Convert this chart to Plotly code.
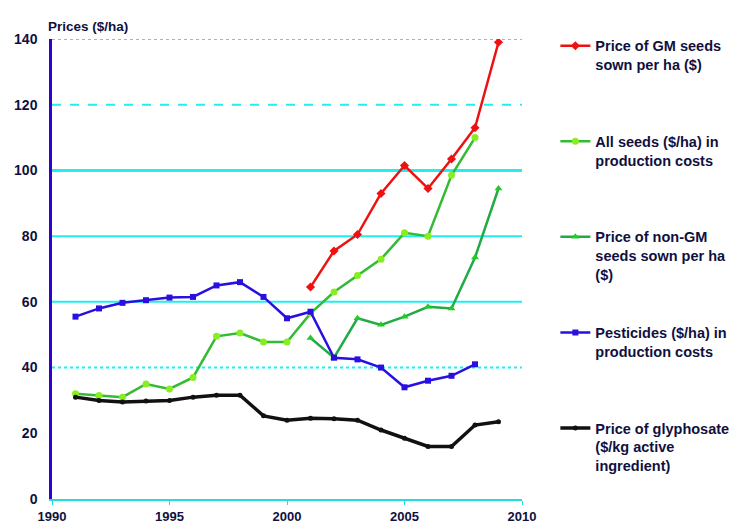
import plotly.graph_objects as go

years_all = list(range(1991, 2009))
all_seeds = [32, 31.5, 31, 35, 33.5, 37, 49.5, 50.5, 47.8, 47.8, 56.5, 63, 68, 73, 81, 80, 98.5, 110]

years_gm = list(range(2001, 2010))
gm_seeds = [64.5, 75.5, 80.5, 93, 101.5, 94.5, 103.5, 113, 139]

years_nongm = list(range(2001, 2010))
nongm_seeds = [49, 43, 55, 53, 55.5, 58.5, 58, 73.5, 94.5]

years_pest = list(range(1991, 2009))
pesticides = [55.5, 58, 59.7, 60.5, 61.3, 61.5, 65, 66, 61.5, 55, 57, 43, 42.5, 40, 34, 36, 37.5, 41]

years_gly = list(range(1991, 2010))
glyphosate = [31, 30, 29.5, 29.8, 30, 31, 31.6, 31.6, 25.3, 24, 24.6, 24.4, 24, 21, 18.5, 16, 16, 22.5, 23.5]

names = [
    "Price of GM seeds<br>sown per ha ($)<br> ",
    "All seeds ($/ha) in<br>production costs<br> ",
    "Price of non-GM<br>seeds sown per ha<br>($)",
    "Pesticides ($/ha) in<br>production costs<br> ",
    "Price of glyphosate<br>($/kg active<br>ingredient)",
]

x_ticks = [1990, 1995, 2000, 2005, 2010]
y_ticks = [0, 20, 40, 60, 80, 100, 120, 140]
grid_vals = [140, 120, 100, 80, 60, 40]
grid_dash = ["dot", "dash", "solid", "solid", "solid", "dot"]
grid_width = [2, 2, 3, 2, 2, 2]

fig = go.Figure()

series = [
    (years_gm, gm_seeds, "#ee1111", 2.5, dict(symbol="diamond", size=7, color="#ee1111")),
    (years_all, all_seeds, "#33bb33", 2.5, dict(symbol="circle", size=7, color="#88ee22")),
    (years_nongm, nongm_seeds, "#22aa44", 2.5, dict(symbol="triangle-up", size=7, color="#22cc22")),
    (years_pest, pesticides, "#2a10e0", 2.5, dict(symbol="square", size=6, color="#2a10e0")),
    (years_gly, glyphosate, "#111111", 3.5, dict(symbol="circle", size=5, color="#111111")),
]

for i, ((xs, ys, col, w, mk), nm) in enumerate(zip(series, names)):
    fig.add_trace(go.Scatter(
        x=xs, y=ys, name=nm, mode="lines+markers",
        line=dict(color=col, width=w), marker=mk,
        legendgroup=f"g{i}",
    ))

for v, d, w in zip(grid_vals, grid_dash, grid_width):
    fig.add_shape(type="line", xref="paper", yref="y", x0=0, x1=1, y0=v, y1=v,
                  line=dict(color="#22eeee", width=w, dash=d), layer="below")

txt = "#101040"
fig.update_layout(
    width=747, height=517,
    margin=dict(l=44, r=233, t=31, b=26, autoexpand=False),
    paper_bgcolor="white", plot_bgcolor="white",
    font=dict(family="Liberation Sans, Arial, sans-serif", size=12, color=txt),
    legend=dict(x=1.071, y=1.02, xanchor="left", yanchor="top",
                font=dict(size=14.5, color=txt, weight="bold"), valign="top",
                tracegroupgap=36, bgcolor="rgba(0,0,0,0)", maxheight=510),
    annotations=[dict(text="<b>Prices ($/ha)</b>", xref="paper", yref="paper", x=-0.013, y=1.0,
                      xanchor="left", yanchor="bottom", yshift=3, showarrow=False,
                      font=dict(size=13.5, color=txt))],
)

fig.update_xaxes(range=[1990, 2010], tickvals=x_ticks, ticks="outside", ticklen=4,
                 tickcolor="#22dddd", showgrid=False, zeroline=False,
                 showline=True, linecolor="#22dddd", linewidth=2, automargin=False,
                 ticklabelstandoff=0, tickfont=dict(size=13, weight="bold"))
fig.update_yaxes(range=[0, 140], tickvals=y_ticks, showgrid=False, zeroline=False,
                 showline=True, linecolor="#3300cc", linewidth=2.5, automargin=False,
                 ticks="", ticklabelstandoff=9, tickfont=dict(size=14, weight="bold"))

fig.write_html("out.html")
